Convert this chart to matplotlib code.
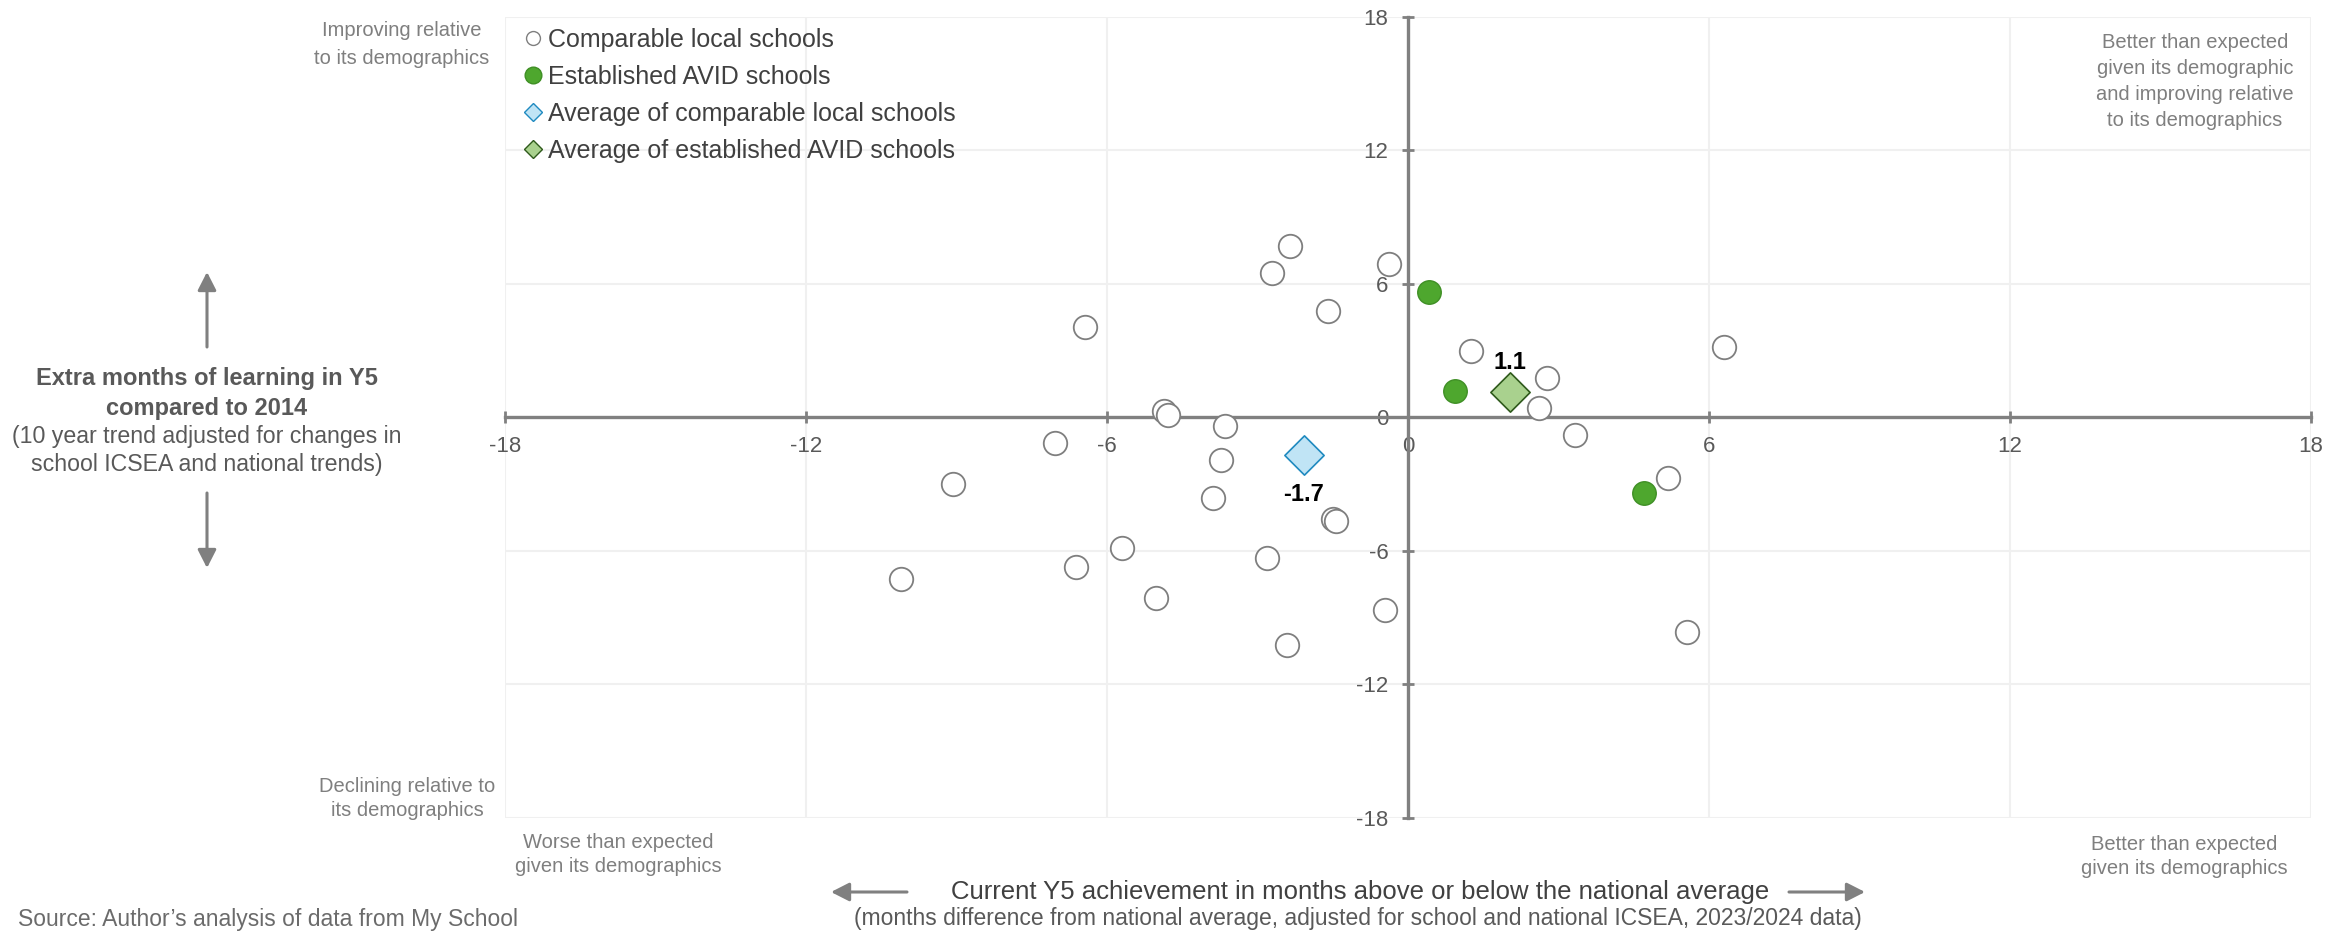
import matplotlib
matplotlib.use("Agg")
import matplotlib.pyplot as plt
from matplotlib.lines import Line2D
from matplotlib.patches import FancyArrowPatch

plt.rcParams['font.family'] = ['Liberation Sans', 'DejaVu Sans']
plt.rcParams['axes.unicode_minus'] = False

# comparable local schools (x = achievement vs national avg, y = 10yr trend)
comp_x = [-2.35, -2.72, -0.38, -1.59, -6.43, 1.26, 2.78, 6.30, -4.86, -4.78,
          -3.64, 2.61, 3.32, -7.04, -3.72, -9.07, -3.89, -1.50, -1.44, 5.19,
          -5.70, -6.62, -10.10, -2.82, -5.03, -0.45, -2.42, 5.57]
comp_y = [7.69, 6.46, 6.87, 4.75, 4.05, 2.98, 1.74, 3.16, 0.25, 0.09,
          -0.39, 0.40, -0.79, -1.15, -1.93, -3.03, -3.64, -4.58, -4.65, -2.75,
          -5.88, -6.73, -7.26, -6.33, -8.12, -8.67, -10.24, -9.66]

# established AVID schools
avid_x = [0.42, 0.93, 4.71]
avid_y = [5.62, 1.17, -3.43]

# averages
avg_comp = (-2.08, -1.72)
avg_avid = (2.04, 1.12)

ticks = [-18, -12, -6, 0, 6, 12, 18]

legend_labels = ["Comparable local schools", "Established AVID schools",
                 "Average of comparable local schools", "Average of established AVID schools"]

W, H = 2348, 933
fig = plt.figure(figsize=(W / 100, H / 100), dpi=100)
ax = fig.add_axes([505 / W, 1 - 817.6 / H, (2311 - 505) / W, (817.6 - 16.5) / H])

axis_col = '#808080'
txt_col = '#595959'
quad_col = '#7f7f7f'

ax.set_xlim(-18, 18)
ax.set_ylim(-18, 18)
ax.set_xticks(ticks)
ax.set_yticks(ticks)
ax.set_xticklabels([str(t) for t in ticks])
ax.set_yticklabels([str(t) for t in ticks])
ax.grid(color='#f0f0f0', lw=1.5)
ax.set_axisbelow(True)

for s in ['top', 'right']:
    ax.spines[s].set_visible(False)
ax.spines['left'].set_position(('data', 0))
ax.spines['bottom'].set_position(('data', 0))
for s in ['left', 'bottom']:
    ax.spines[s].set_color(axis_col)
    ax.spines[s].set_linewidth(2.4)
ax.tick_params(direction='inout', length=8, width=2, color=axis_col,
               labelsize=16, labelcolor=txt_col, pad=10)

ax.scatter(comp_x, comp_y, s=286, facecolor='white', edgecolor='#7f7f7f', lw=1.3, zorder=3)
ax.scatter(avid_x, avid_y, s=286, facecolor='#4ea72e', edgecolor='#3f8f25', lw=1, zorder=4)
ax.scatter([avg_comp[0]], [avg_comp[1]], marker='D', s=400, facecolor='#c0e4f5',
           edgecolor='#1f8ac0', lw=1.2, zorder=5)
ax.scatter([avg_avid[0]], [avg_avid[1]], marker='D', s=400, facecolor='#a9d18e',
           edgecolor='#2f5a1c', lw=1.2, zorder=5)

ax.annotate(f"{avg_avid[1]:.1f}", avg_avid, xytext=(0, 21), textcoords='offset points',
            ha='center', va='center', fontsize=17, fontweight='bold', color='black', zorder=6)
ax.annotate(f"{avg_comp[1]:.1f}", avg_comp, xytext=(0, -28), textcoords='offset points',
            ha='center', va='center', fontsize=17, fontweight='bold', color='black', zorder=6)

handles = [
    Line2D([], [], ls='none', marker='o', ms=10, mfc='white', mec='#7f7f7f', mew=1),
    Line2D([], [], ls='none', marker='o', ms=12, mfc='#4ea72e', mec='#3f8f25', mew=1),
    Line2D([], [], ls='none', marker='D', ms=9, mfc='#c0e4f5', mec='#1f8ac0', mew=1),
    Line2D([], [], ls='none', marker='D', ms=9, mfc='#a9d18e', mec='#2f5a1c', mew=1),
]
leg = fig.legend(handles, legend_labels, loc='upper left', bbox_to_anchor=(524 / W, 1 - 28 / H),
                 frameon=False, fontsize=18, handlelength=0.75, handletextpad=0.2,
                 labelspacing=0.52, borderpad=0, borderaxespad=0)
for t in leg.get_texts():
    t.set_color('#404040')


def ftext(x, y, s, **kw):
    fig.text(x / W, 1 - y / H, s, ha=kw.pop('ha', 'center'), va=kw.pop('va', 'center'), **kw)


def farrow(x1, y1, x2, y2):
    fig.add_artist(FancyArrowPatch((x1 / W, 1 - y1 / H), (x2 / W, 1 - y2 / H),
                                   transform=fig.transFigure,
                                   arrowstyle='-|>,head_length=0.55,head_width=0.28',
                                   mutation_scale=20, color=axis_col, lw=2.2,
                                   shrinkA=0, shrinkB=0))


# quadrant notes
qkw = dict(fontsize=14.5, color=quad_col)
for y, s in zip([31, 58], ["Improving relative", "to its demographics"]):
    ftext(402, y, s, **qkw)
for y, s in zip([787, 811], ["Declining relative to", "its demographics"]):
    ftext(407, y, s, **qkw)
for y, s in zip([843, 867], ["Worse than expected", "given its demographics"]):
    ftext(618, y, s, **qkw)
for y, s in zip([43, 68, 94, 121], ["Better than expected", "given its demographic",
                                    "and improving relative", "to its demographics"]):
    ftext(2195, y, s, **qkw)
for y, s in zip([844, 869], ["Better than expected", "given its demographics"]):
    ftext(2184, y, s, **qkw)

# y axis title
for y, s in zip([378, 408], ["Extra months of learning in Y5", "compared to 2014"]):
    ftext(207, y, s, fontsize=17, fontweight='bold', color=txt_col)
for y, s in zip([437, 464], ["(10 year trend adjusted for changes in",
                             "school ICSEA and national trends)"]):
    ftext(207, y, s, fontsize=16.7, color=txt_col)
farrow(207, 347, 207, 272)
farrow(207, 493, 207, 568)

# x axis title
ftext(1360, 892, "Current Y5 achievement in months above or below the national average",
      fontsize=18.5, color='#404040')
ftext(1358, 919, "(months difference from national average, adjusted for school and national ICSEA, 2023/2024 data)",
      fontsize=16.5, color=txt_col)
farrow(907, 892, 831, 892)
farrow(1789, 892, 1865, 892)

ftext(18, 931, "Source: Author\u2019s analysis of data from My School", ha='left', va='bottom',
      fontsize=16.5, color='#6b6b6b')

fig.savefig("out.png", dpi=100)
